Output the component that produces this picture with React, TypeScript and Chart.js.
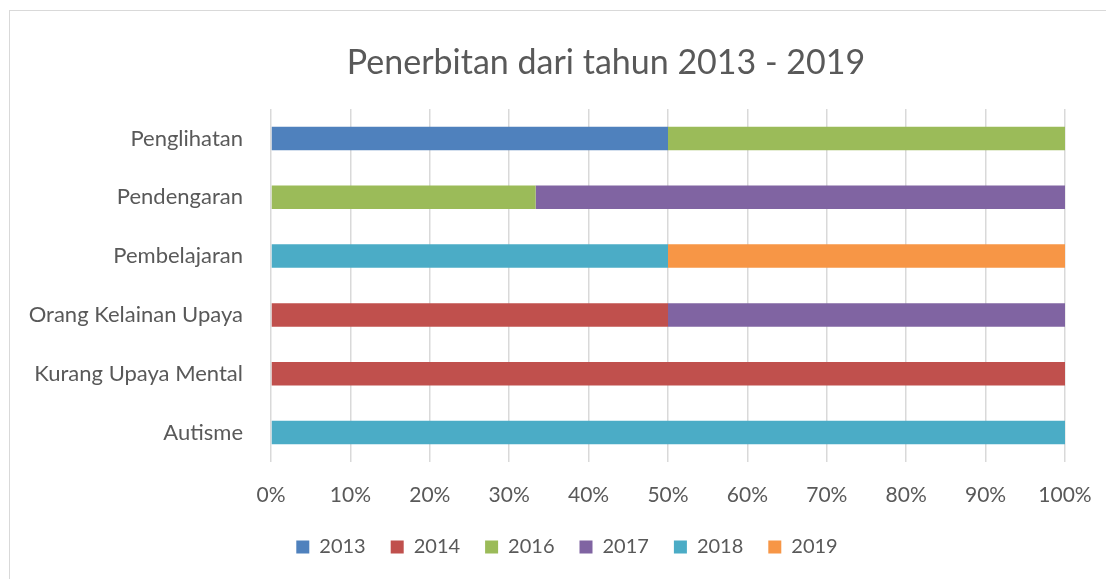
import React, { useEffect, useRef } from "react";
import { Chart, registerables } from "chart.js";

Chart.register(...registerables);

const categories = [
  "Penglihatan",
  "Pendengaran",
  "Pembelajaran",
  "Orang Kelainan Upaya",
  "Kurang Upaya Mental",
  "Autisme",
];

const seriesNames = ["2013", "2014", "2016", "2017", "2018", "2019"];

const values2013 = [50, 0, 0, 0, 0, 0];
const values2014 = [0, 0, 0, 50, 100, 0];
const values2016 = [50, 33.33, 0, 0, 0, 0];
const values2017 = [0, 66.67, 0, 50, 0, 0];
const values2018 = [0, 0, 50, 0, 0, 100];
const values2019 = [0, 0, 50, 0, 0, 0];

const xTickLabels = ["0%", "10%", "20%", "30%", "40%", "50%", "60%", "70%", "80%", "90%", "100%"];

const seriesColors = ["#4F81BD", "#C0504D", "#9BBB59", "#8064A2", "#4BACC6", "#F79646"];

const FONT = "Lato, 'Open Sans', sans-serif";
const TEXT = "#595959";

const boxShift = {
  id: "boxShift",
  afterLayout(chart: any) {
    const tb = chart.titleBlock;
    if (tb) {
      tb.left += 68.5;
      tb.right += 68.5;
    }
    const lg = chart.legend;
    if (lg) {
      lg.left += 29.5;
      lg.right += 29.5;
    }
  },
};

export default function App() {
  const ref = useRef<HTMLCanvasElement | null>(null);

  useEffect(() => {
    if (!ref.current) return;
    const allValues = [values2013, values2014, values2016, values2017, values2018, values2019];
    const chart = new Chart(ref.current, {
      type: "bar",
      data: {
        labels: categories,
        datasets: seriesNames.map((name, i) => ({
          label: name,
          data: allValues[i],
          backgroundColor: seriesColors[i],
          borderWidth: 0,
          categoryPercentage: 1,
          barPercentage: 0.4,
        })),
      },
      plugins: [boxShift],
      options: {
        indexAxis: "y",
        animation: false,
        responsive: false,
        maintainAspectRatio: false,
        layout: { padding: { left: 10, right: 41, top: 0, bottom: 12 } },
        plugins: {
          title: {
            display: true,
            text: "Penerbitan dari tahun 2013 - 2019",
            color: TEXT,
            font: { family: FONT, size: 34, weight: "normal", lineHeight: 1.2 },
            padding: { top: 43, bottom: 25.2 },
          },
          legend: {
            position: "bottom",
            labels: {
              color: TEXT,
              font: { family: FONT, size: 20 },
              boxWidth: 13,
              boxHeight: 13,
              padding: 25,
            },
          },
          tooltip: { enabled: false },
        },
        scales: {
          x: {
            stacked: true,
            min: 0,
            max: 100,
            border: { display: false },
            grid: { color: "#d9d9d9", lineWidth: 1.5, drawTicks: false },
            ticks: {
              stepSize: 10,
              padding: 20.4,
              color: TEXT,
              font: { family: FONT, size: 21, lineHeight: 1.2 },
              callback: (_v: any, idx: number) => xTickLabels[idx],
            },
            afterFit: (scale: any) => {
              scale.height = 50;
              scale.paddingRight = 0;
              scale.paddingLeft = 0;
            },
          },
          y: {
            stacked: true,
            border: { display: false },
            grid: { display: false, drawTicks: false },
            ticks: {
              padding: 28,
              color: TEXT,
              font: { family: FONT, size: 22 },
            },
            afterFit: (scale: any) => {
              scale.width = 261;
            },
          },
        },
      },
    });
    return () => chart.destroy();
  }, []);

  return (
    <div style={{ position: "fixed", left: 0, top: 0, width: 1106, height: 579, background: "#fff", overflow: "hidden" }}>
      <div
        style={{
          position: "absolute",
          left: 9,
          top: 10,
          width: 1200,
          height: 700,
          border: "1px solid #d9d9d9",
        }}
      />
      <canvas ref={ref} width={1106} height={579} style={{ position: "absolute", left: 0, top: 0 }} />
    </div>
  );
}
